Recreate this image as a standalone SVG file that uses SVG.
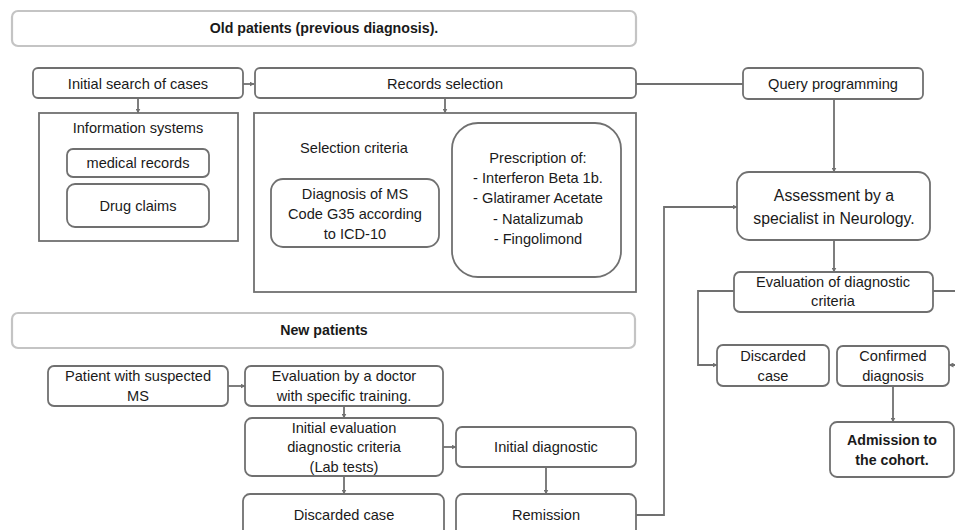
<svg xmlns="http://www.w3.org/2000/svg" width="955" height="530" viewBox="0 0 955 530">
<defs>
<marker id="ah" viewBox="0 0 10 10" refX="9" refY="5" markerWidth="5" markerHeight="5" orient="auto" markerUnits="userSpaceOnUse">
<path d="M0,0 L10,5 L0,10 z" fill="#707070"/>
</marker>
<style>
.box{fill:#fff;stroke:#707070;stroke-width:1.8}
.title{fill:#fff;stroke:#c4c4c4;stroke-width:2.2}
.t{font-family:"Liberation Sans",Arial,sans-serif;font-size:14.6px;fill:#1a1a1a;text-anchor:middle}
.b{font-weight:bold;font-size:14.2px}
.l{font-size:15.8px}
.c{fill:none;stroke:#707070;stroke-width:1.8}
</style>
</defs>
<rect width="955" height="530" fill="#fff"/>

<g id="title-old">
<rect class="title" x="12" y="11" width="624" height="35" rx="6"/>
<text class="t b" x="324" y="33">Old patients (previous diagnosis).</text>
</g>
<g id="initial-search">
<rect class="box" x="33" y="68" width="210" height="30" rx="5"/>
<text class="t" x="138" y="89">Initial search of cases</text>
</g>
<g id="records-selection">
<rect class="box" x="255" y="68" width="381" height="30" rx="5"/>
<text class="t" x="445" y="89">Records selection</text>
</g>
<g id="query-programming">
<rect class="box" x="743" y="68" width="180" height="31" rx="5"/>
<text class="t" x="833" y="89">Query programming</text>
</g>
<g id="information-systems">
<rect class="box" x="39" y="113" width="199" height="128"/>
<text class="t" x="138" y="133">Information systems</text>
</g>
<g id="medical-records">
<rect class="box" x="67" y="149" width="142" height="28" rx="6"/>
<text class="t" x="138" y="168">medical records</text>
</g>
<g id="drug-claims">
<rect class="box" x="67" y="184" width="142" height="43" rx="8"/>
<text class="t" x="138" y="211">Drug claims</text>
</g>
<g id="selection-criteria">
<rect class="box" x="254" y="113" width="382" height="179"/>
<text class="t" x="354" y="153">Selection criteria</text>
</g>
<g id="diagnosis-ms">
<rect class="box" x="271" y="179" width="168" height="68" rx="12"/>
<text class="t" x="355" y="199">Diagnosis of MS</text>
<text class="t" x="355" y="219">Code G35 according</text>
<text class="t" x="355" y="239">to ICD-10</text>
</g>
<g id="prescription">
<rect class="box" x="452" y="123" width="169" height="154" rx="26"/>
<text class="t" x="538" y="163">Prescription of:</text>
<text class="t" x="538" y="183">- Interferon Beta 1b.</text>
<text class="t" x="538" y="203">- Glatiramer Acetate</text>
<text class="t" x="538" y="224">- Natalizumab</text>
<text class="t" x="538" y="244">- Fingolimond</text>
</g>
<g id="assessment">
<rect class="box" x="737" y="172" width="193" height="68" rx="12"/>
<text class="t l" x="834" y="201">Assessment by a</text>
<text class="t l" x="834" y="224">specialist in Neurology.</text>
</g>
<g id="evaluation-criteria">
<rect class="box" x="734" y="272" width="199" height="40" rx="6"/>
<text class="t" x="833" y="287">Evaluation of diagnostic</text>
<text class="t" x="833" y="306">criteria</text>
</g>
<g id="discarded-right">
<rect class="box" x="717" y="345" width="112" height="41" rx="6"/>
<text class="t" x="773" y="361">Discarded</text>
<text class="t" x="773" y="381">case</text>
</g>
<g id="confirmed">
<rect class="box" x="837" y="346" width="112" height="40" rx="6"/>
<text class="t" x="893" y="361">Confirmed</text>
<text class="t" x="893" y="381">diagnosis</text>
</g>
<g id="admission">
<rect class="box" x="830" y="422" width="124" height="55" rx="7"/>
<text class="t b" x="892" y="445">Admission to</text>
<text class="t b" x="892" y="465">the cohort.</text>
</g>
<g id="title-new">
<rect class="title" x="12" y="313" width="623" height="35" rx="6"/>
<text class="t b" x="324" y="335">New patients</text>
</g>
<g id="patient-suspected">
<rect class="box" x="48" y="366" width="180" height="40" rx="6"/>
<text class="t" x="138" y="381">Patient with suspected</text>
<text class="t" x="138" y="401">MS</text>
</g>
<g id="evaluation-doctor">
<rect class="box" x="245" y="366" width="198" height="40" rx="6"/>
<text class="t" x="344" y="381">Evaluation by a doctor</text>
<text class="t" x="344" y="401">with specific training.</text>
</g>
<g id="initial-evaluation">
<rect class="box" x="245" y="418" width="198" height="58" rx="7"/>
<text class="t" x="344" y="433">Initial evaluation</text>
<text class="t" x="344" y="452">diagnostic criteria</text>
<text class="t" x="344" y="472">(Lab tests)</text>
</g>
<g id="initial-diagnostic">
<rect class="box" x="456" y="427" width="180" height="40" rx="6"/>
<text class="t" x="546" y="452">Initial diagnostic</text>
</g>
<g id="discarded-bottom">
<rect class="box" x="243" y="494" width="201" height="50" rx="7"/>
<text class="t" x="344" y="520">Discarded case</text>
</g>
<g id="remission">
<rect class="box" x="456" y="494" width="180" height="50" rx="7"/>
<text class="t" x="546" y="520">Remission</text>
</g>

<g id="connectors">
<path class="c" d="M243,84 H254" marker-end="url(#ah)"/>
<path class="c" d="M636,84 H743"/>
<path class="c" d="M138,98 V113" marker-end="url(#ah)"/>
<path class="c" d="M445,98 V113" marker-end="url(#ah)"/>
<path class="c" d="M834,99 V172" marker-end="url(#ah)"/>
<path class="c" d="M834,240 V272" marker-end="url(#ah)"/>
<path class="c" d="M734,291 H698 V365 H717" marker-end="url(#ah)"/>
<path class="c" d="M933,291 H965 V365 H949" marker-end="url(#ah)"/>
<path class="c" d="M893,386 V422" marker-end="url(#ah)"/>
<path class="c" d="M228,386 H245" marker-end="url(#ah)"/>
<path class="c" d="M344,406 V418" marker-end="url(#ah)"/>
<path class="c" d="M443,447 H456" marker-end="url(#ah)"/>
<path class="c" d="M344,476 V494" marker-end="url(#ah)"/>
<path class="c" d="M546,467 V494" marker-end="url(#ah)"/>
<path class="c" d="M636,515 H664 V207 H737" marker-end="url(#ah)"/>
</g>
</svg>
